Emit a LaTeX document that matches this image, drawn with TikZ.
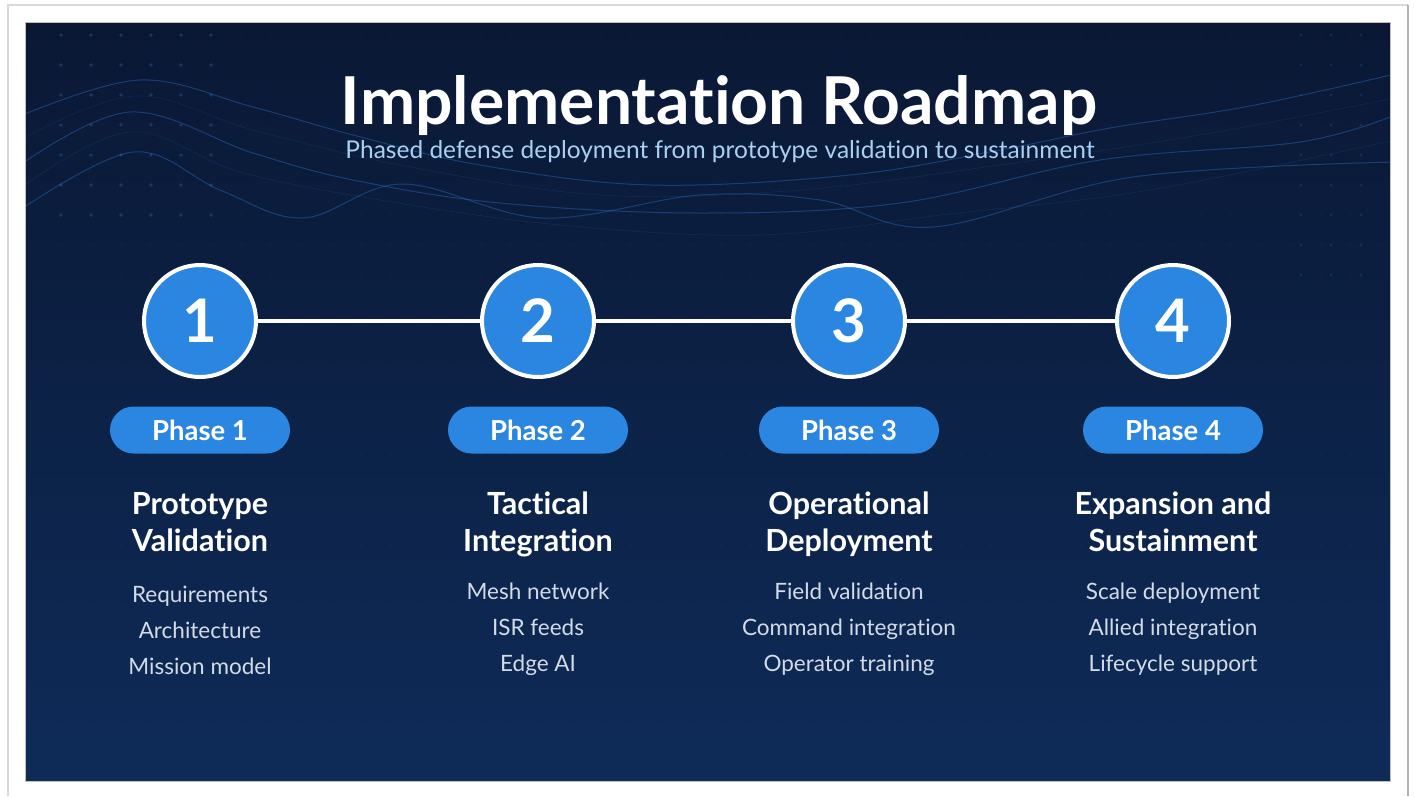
\documentclass[tikz,border=0pt]{standalone}
\usepackage{fontspec}
\setmainfont{Lato}[Ligatures=NoCommon]
\definecolor{bgtop}{HTML}{0A1834}
\definecolor{bgbot}{HTML}{0E2B58}
\definecolor{accent}{HTML}{2A86E0}
\definecolor{subblue}{HTML}{A9D0F2}
\definecolor{itemgray}{HTML}{D3DBE6}
\definecolor{wavec}{HTML}{2F7BD8}
\tikzset{
  stepcircle/.style={circle, draw=white, line width=4pt, fill=accent, minimum size=112pt, inner sep=0pt,
    text=white, font=\fontsize{60}{62}\selectfont\bfseries},
  pill/.style={rectangle, rounded corners=23.5pt, fill=accent, minimum width=180pt, minimum height=47pt,
    inner sep=0pt, text=white, font=\fontsize{27.5}{29}\selectfont\bfseries},
  headtxt/.style={anchor=base, text=white, inner sep=0pt, font=\fontsize{30.5}{33}\selectfont\bfseries},
  itemtxt/.style={anchor=base, text=itemgray, inner sep=0pt, font=\fontsize{22.5}{25}\selectfont},
  link/.style={draw=white, line width=4.5pt},
  wave/.style={draw=wavec, line width=1pt, opacity=0.38},
  fwave/.style={draw=wavec, line width=0.7pt, opacity=0.14},
}
\begin{document}
\begin{tikzpicture}[x=1pt,y=-1pt]
\useasboundingbox (0,0) rectangle (1415,796);
\fill[white] (0,0) rectangle (1415,796);
\draw[black!15, line width=1.2pt] (8,796) -- (8,5) -- (1408,5);
\draw[black!30, line width=2pt] (1408,5) -- (1408,796);
% panel
\shade[top color=bgtop, bottom color=bgbot] (25,22) rectangle (1390,781);
\begin{scope}
\clip (25,22) rectangle (1390,781);
% dots
\foreach \dx in {0,...,44} {
  \foreach \dy in {0,...,24} {
    \fill[wavec, opacity=0.05] (61+30*\dx, 35+30*\dy) circle (1.4pt);
  }
}
\foreach \dx in {0,...,5} {
  \foreach \dy in {0,...,6} {
    \fill[wavec, opacity=0.3] (61+30*\dx, 35+30*\dy) circle (1.8pt);
  }
}
\foreach \dx in {0,...,2} {
  \foreach \dy in {0,...,8} {
    \fill[wavec, opacity=0.2] (1301+30*\dx, 35+30*\dy) circle (1.6pt);
  }
}
% waves
\draw[wave] plot[smooth, tension=0.6] coordinates {(20,116) (140,80) (253,107) (353,135) (480,165) (650,185) (850,175) (1000,150) (1110,128) (1250,106) (1395,74)};
\draw[wave] plot[smooth, tension=0.6] coordinates {(20,165) (130,112) (253,153) (353,180) (500,203) (700,213) (900,203) (1100,160) (1300,142) (1395,115)};
\draw[wave] plot[smooth, tension=0.6] coordinates {(20,210) (133,152) (220,190) (303,218) (403,184) (543,218) (700,195) (820,200) (933,227) (1133,177) (1395,162)};
\draw[fwave] plot[smooth, tension=0.6] coordinates {(20,140) (135,96) (253,130) (400,165) (600,195) (800,190) (1000,165) (1200,135) (1395,98)};
\draw[fwave] plot[smooth, tension=0.6] coordinates {(20,188) (130,132) (240,172) (380,200) (560,225) (760,235) (950,214) (1150,190) (1395,140)};
\end{scope}
\draw[black!25, line width=0.6pt] (25,22) rectangle (1390,781);
% title
\node[anchor=base, text=white, inner sep=0pt, font=\fontsize{66}{70}\selectfont\bfseries] (title) at (719,124) {Implementation Roadmap};
\node[anchor=base, text=subblue, inner sep=0pt, font=\fontsize{24.5}{27}\selectfont] (subtitle) at (720,158) {Phased defense deployment from prototype validation to sustainment};
% phases
\foreach \i/\x/\ha/\hb/\ia/\ib/\ic/\dy in {
  1/200/Prototype/Validation/Requirements/Architecture/Mission model/3,
  2/538/Tactical/Integration/Mesh network/ISR feeds/Edge AI/0,
  3/849/Operational/Deployment/Field validation/Command integration/Operator training/0,
  4/1173/Expansion and/Sustainment/Scale deployment/Allied integration/Lifecycle support/0} {
  \node[stepcircle] (c\i) at (\x,321) {\i};
  \node[pill] (p\i) at (\x,430) {Phase \i};
  \node[headtxt] (ha\i) at (\x,514) {\ha};
  \node[headtxt] (hb\i) at (\x,551) {\hb};
  \node[itemtxt] (ia\i) at (\x,599+\dy) {\ia};
  \node[itemtxt] (ib\i) at (\x,635+\dy) {\ib};
  \node[itemtxt] (ic\i) at (\x,671+\dy) {\ic};
}
\draw[link] (c1) -- (c2);
\draw[link] (c2) -- (c3);
\draw[link] (c3) -- (c4);
\end{tikzpicture}
\end{document}
